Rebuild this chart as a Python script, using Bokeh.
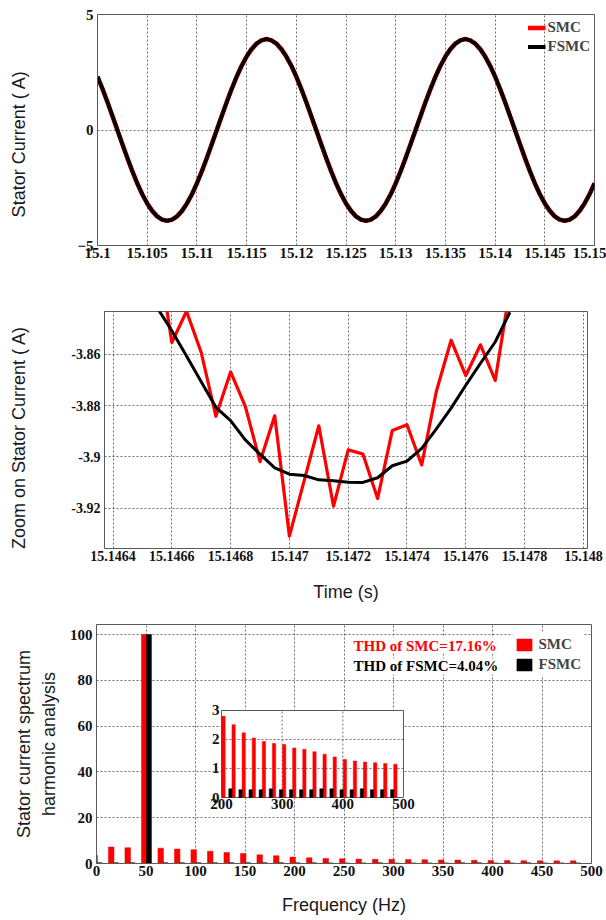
from bokeh.plotting import figure
from bokeh.layouts import column, row
from bokeh.models import (FixedTicker, Range1d, Legend, LegendItem,
                          ColumnDataSource, Label)
from bokeh.embed import file_html
from bokeh.resources import INLINE
from bokeh.core.properties import value
from bokeh.transform import dodge

# ---------------- data ----------------
top_time = [15.1000, 15.1005, 15.1010, 15.1015, 15.1020, 15.1025, 15.1030, 15.1035, 15.1040, 15.1045,
            15.1050, 15.1055, 15.1060, 15.1065, 15.1070, 15.1075, 15.1080, 15.1085, 15.1090, 15.1095,
            15.1100, 15.1105, 15.1110, 15.1115, 15.1120, 15.1125, 15.1130, 15.1135, 15.1140, 15.1145,
            15.1150, 15.1155, 15.1160, 15.1165, 15.1170, 15.1175, 15.1180, 15.1185, 15.1190, 15.1195,
            15.1200, 15.1205, 15.1210, 15.1215, 15.1220, 15.1225, 15.1230, 15.1235, 15.1240, 15.1245,
            15.1250, 15.1255, 15.1260, 15.1265, 15.1270, 15.1275, 15.1280, 15.1285, 15.1290, 15.1295,
            15.1300, 15.1305, 15.1310, 15.1315, 15.1320, 15.1325, 15.1330, 15.1335, 15.1340, 15.1345,
            15.1350, 15.1355, 15.1360, 15.1365, 15.1370, 15.1375, 15.1380, 15.1385, 15.1390, 15.1395,
            15.1400, 15.1405, 15.1410, 15.1415, 15.1420, 15.1425, 15.1430, 15.1435, 15.1440, 15.1445,
            15.1450, 15.1455, 15.1460, 15.1465, 15.1470, 15.1475, 15.1480, 15.1485, 15.1490, 15.1495,
            15.1500]
top_fsmc = [2.31, 1.78, 1.21, 0.61, 0.00, -0.61, -1.21, -1.78, -2.31, -2.78,
            -3.18, -3.50, -3.74, -3.88, -3.93, -3.88, -3.74, -3.50, -3.18, -2.78,
            -2.31, -1.78, -1.21, -0.61, 0.00, 0.61, 1.21, 1.78, 2.31, 2.78,
            3.18, 3.50, 3.74, 3.88, 3.94, 3.88, 3.74, 3.50, 3.18, 2.78,
            2.31, 1.78, 1.21, 0.61, 0.00, -0.61, -1.21, -1.78, -2.31, -2.78,
            -3.18, -3.50, -3.74, -3.88, -3.93, -3.88, -3.74, -3.50, -3.18, -2.78,
            -2.31, -1.78, -1.21, -0.61, 0.00, 0.61, 1.21, 1.78, 2.31, 2.78,
            3.18, 3.50, 3.74, 3.88, 3.94, 3.88, 3.74, 3.50, 3.18, 2.78,
            2.31, 1.78, 1.21, 0.61, 0.00, -0.61, -1.21, -1.78, -2.31, -2.78,
            -3.18, -3.50, -3.74, -3.88, -3.93, -3.88, -3.74, -3.50, -3.18, -2.78,
            -2.31]
top_smc = list(top_fsmc)
top_xticks = [15.1, 15.105, 15.11, 15.115, 15.12, 15.125, 15.13, 15.135, 15.14, 15.145, 15.15]
top_xlabels = ["15.1", "15.105", "15.11", "15.115", "15.12", "15.125", "15.13",
               "15.135", "15.14", "15.145", "15.15"]
top_yticks = [-5, 0, 5]

zoom_time = [15.14655, 15.14660, 15.14665, 15.14670, 15.14675, 15.14680, 15.14685,
             15.14690, 15.14695, 15.14700, 15.14705, 15.14710, 15.14715, 15.14720,
             15.14725, 15.14730, 15.14735, 15.14740, 15.14745, 15.14750, 15.14755,
             15.14760, 15.14765, 15.14770, 15.14775]
zoom_smc = [-3.8180, -3.8554, -3.8432, -3.8593, -3.8842, -3.8669, -3.8803,
            -3.9019, -3.8840, -3.9310, -3.9094, -3.8879, -3.9193, -3.8973,
            -3.8989, -3.9163, -3.8897, -3.8875, -3.9032, -3.8744, -3.8545,
            -3.8683, -3.8563, -3.8702, -3.8345]
zoom_fsmc = [-3.8418, -3.8508, -3.8607, -3.8707, -3.8807, -3.8859, -3.8934,
             -3.8990, -3.9043, -3.9068, -3.9073, -3.9090, -3.9094, -3.9099,
             -3.9100, -3.9082, -3.9035, -3.9017, -3.8967, -3.8891, -3.8810,
             -3.8721, -3.8635, -3.8552, -3.8436]
zoom_xticks = [15.1464, 15.1466, 15.1468, 15.147, 15.1472, 15.1474, 15.1476, 15.1478, 15.148]
zoom_xlabels = ["15.1464", "15.1466", "15.1468", "15.147", "15.1472", "15.1474",
                "15.1476", "15.1478", "15.148"]
zoom_yticks = [-3.92, -3.9, -3.88, -3.86]
zoom_ylabels = ["-3.92", "-3.9", "-3.88", "-3.86"]

harm_freq = [0.0, 16.67, 33.33, 50.0, 66.67, 83.33, 100.0, 116.67, 133.33, 150.0,
             166.67, 183.33, 200.0, 216.67, 233.33, 250.0, 266.67, 283.33, 300.0, 316.67,
             333.33, 350.0, 366.67, 383.33, 400.0, 416.67, 433.33, 450.0, 466.67, 483.33]
harm_smc = [3.5, 7.2, 6.9, 100.0, 6.7, 6.3, 6.0, 5.4, 4.8, 4.4,
            3.8, 3.4, 2.80, 2.51, 2.23, 2.05, 1.93, 1.86, 1.83, 1.71,
            1.66, 1.58, 1.49, 1.40, 1.31, 1.26, 1.22, 1.20, 1.17, 1.15]
harm_fsmc = [0.35, 0.35, 0.35, 100.0, 0.35, 0.35, 0.35, 0.35, 0.35, 0.35,
             0.35, 0.35, 0.30, 0.30, 0.27, 0.27, 0.27, 0.30, 0.27, 0.27,
             0.27, 0.27, 0.30, 0.30, 0.27, 0.27, 0.30, 0.27, 0.27, 0.27]
main_xticks = [0, 50, 100, 150, 200, 250, 300, 350, 400, 450, 500]
main_yticks = [0, 20, 40, 60, 80, 100]
inset_xticks = [200, 300, 400, 500]
inset_xlabels = ["200", "300", "400", "500"]
inset_yticks = [0, 1, 2, 3]
inset_ylabels = ["0", "1", "2", "3"]

thd_smc_text = "THD of SMC=17.16%"
thd_fsmc_text = "THD of FSMC=4.04%"

# ---------------- styling helpers ----------------
SERIF = "Liberation Serif"
SANS = "Liberation Sans"
RED = "#ff0000"
BLACK = "#000000"
FRAME = "#5a5a5a"
GRID = "#6e6e6e"
LABEL_W = 36


def style(p, tick_size):
    p.outline_line_color = FRAME
    p.outline_line_width = 1
    p.outline_line_alpha = 1
    for ax in (p.xaxis, p.yaxis):
        ax.axis_line_color = FRAME
        ax.major_tick_in = 0
        ax.major_tick_out = 0
        ax.minor_tick_line_color = None
        ax.major_label_text_font = SERIF
        ax.major_label_text_font_style = "bold"
        ax.major_label_text_font_size = tick_size
        ax.major_label_text_color = "#111111"
        ax.axis_label_text_font = SANS
        ax.axis_label_text_font_size = "18px"
        ax.axis_label_text_font_style = "normal"
        ax.axis_label_text_color = "#1a1a1a"
    p.xaxis.major_label_standoff = 2
    p.yaxis.major_label_standoff = 4
    p.grid.grid_line_color = GRID
    p.grid.grid_line_dash = "2 2"
    p.grid.grid_line_width = 1
    p.background_fill_color = "white"
    p.border_fill_color = "white"


def label_strip(text, height, center_from_top):
    """narrow strip holding a rotated y-axis title"""
    f = figure(width=LABEL_W, height=height, x_range=Range1d(0, LABEL_W),
               y_range=Range1d(0, height), x_axis_type=None, y_axis_type=None,
               output_backend="svg", toolbar_location=None, min_border=0)
    f.outline_line_color = None
    f.border_fill_color = "white"
    f.background_fill_color = "white"
    f.text(x=[LABEL_W / 2], y=[height - center_from_top], text=[text],
           angle=90, angle_units="deg", text_align="center", text_baseline="middle",
           text_font=value(SANS), text_font_size="18px", text_color="#1a1a1a")
    return f


# ---------------- top plot ----------------
H1 = 275
p1 = figure(width=606 - LABEL_W, height=H1, x_range=Range1d(15.1, 15.15), y_range=Range1d(-5, 5),
            output_backend="svg", toolbar_location=None,
            min_border_left=97 - LABEL_W, min_border_right=12, min_border_top=14,
            min_border_bottom=30)
style(p1, "15px")
p1.xaxis.ticker = FixedTicker(ticks=top_xticks)
p1.xaxis.major_label_overrides = dict(zip(top_xticks, top_xlabels))
p1.yaxis.ticker = FixedTicker(ticks=top_yticks)
r1 = p1.line(top_time, top_smc, line_color=RED, line_width=4.6, line_join="round")
r2 = p1.line(top_time, top_fsmc, line_color=BLACK, line_width=3.8, line_join="round")
leg1 = Legend(items=[LegendItem(label="SMC", renderers=[r1]),
                     LegendItem(label="FSMC", renderers=[r2])],
              location="top_right")
leg1.label_text_font = SERIF
leg1.label_text_font_style = "bold"
leg1.label_text_font_size = "15px"
leg1.glyph_width = 18
leg1.glyph_height = 19
leg1.label_height = 19
leg1.spacing = 0
leg1.padding = 0
leg1.margin = 4
leg1.label_standoff = 2
leg1.background_fill_alpha = 0
leg1.border_line_alpha = 0
p1.add_layout(leg1)
l1 = label_strip("Stator Current ( A)", H1, 154)

# ---------------- zoom plot ----------------
H2 = 333
p2 = figure(width=606 - LABEL_W, height=H2, x_range=Range1d(15.146371, 15.148014),
            y_range=Range1d(-3.9358, -3.8433),
            output_backend="svg", toolbar_location=None,
            min_border_left=104 - LABEL_W, min_border_right=19, min_border_top=36,
            min_border_bottom=60)
style(p2, "14px")
p2.xaxis.ticker = FixedTicker(ticks=zoom_xticks)
p2.xaxis.major_label_overrides = dict(zip(zoom_xticks, zoom_xlabels))
p2.yaxis.ticker = FixedTicker(ticks=zoom_yticks)
p2.yaxis.major_label_overrides = dict(zip(zoom_yticks, zoom_ylabels))
p2.xaxis.axis_label = "Time (s)"
p2.xaxis.axis_label_standoff = 18
p2.line(zoom_time, zoom_smc, line_color=RED, line_width=3.2, line_join="round")
p2.line(zoom_time, zoom_fsmc, line_color=BLACK, line_width=3, line_join="round")
l2 = label_strip("Zoom on Stator Current ( A)", H2, 452 - H1)

# ---------------- harmonic spectrum ----------------
p3 = figure(width=606, height=311, x_range=Range1d(0, 500), y_range=Range1d(0, 104.4),
            output_backend="svg", toolbar_location=None,
            min_border_left=96, min_border_right=15, min_border_top=16, min_border_bottom=56)
style(p3, "15px")
p3.xaxis.ticker = FixedTicker(ticks=main_xticks)
p3.yaxis.ticker = FixedTicker(ticks=main_yticks)
p3.yaxis.axis_label = "Stator current spectrum\nharmonic analysis"
p3.yaxis.axis_label_text_line_height = 1.25
p3.yaxis.axis_label_standoff = 8
p3.xaxis.axis_label = "Frequency (Hz)"
p3.xaxis.axis_label_standoff = 16

src_main = ColumnDataSource(dict(f=harm_freq, smc=harm_smc, fsmc=harm_fsmc))
rb1 = p3.vbar(x=dodge("f", -1.8), top="smc", width=5.6, source=src_main,
              fill_color=RED, line_color=RED, line_width=0.5)
rb2 = p3.vbar(x=dodge("f", 3.0), top="fsmc", width=5, source=src_main,
              fill_color=BLACK, line_color=BLACK, line_width=0.5)

leg3 = Legend(items=[LegendItem(label="SMC", renderers=[rb1]),
                     LegendItem(label="FSMC", renderers=[rb2])],
              location="top_right")
leg3.label_text_font = SERIF
leg3.label_text_font_style = "bold"
leg3.label_text_font_size = "15px"
leg3.glyph_width = 19
leg3.glyph_height = 15
leg3.label_height = 20
leg3.spacing = 0
leg3.padding = 2
leg3.margin = 8
leg3.label_standoff = 5
leg3.background_fill_color = "white"
leg3.background_fill_alpha = 1
leg3.border_line_alpha = 0
p3.add_layout(leg3)

for txt, yv, col in ((thd_smc_text, 95.2, RED), (thd_fsmc_text, 86.1, BLACK)):
    p3.add_layout(Label(x=259.6, y=yv, text=txt, text_color=col, text_font=SERIF,
                        text_font_style="bold", text_font_size="15px",
                        text_baseline="middle", text_align="left",
                        background_fill_color="white", background_fill_alpha=1))

# inset: own coordinate system inside the spectrum plot
in_x = Range1d(200, 500)
in_y = Range1d(0, 3)
inset = p3.subplot(x_source=in_x, y_source=in_y,
                   x_target=Range1d(126.26, 310.1), y_target=Range1d(28.83, 66.84))
inset.quad(left=[in_x.start], right=[in_x.end], bottom=[in_y.start], top=[in_y.end],
           fill_color="white", line_color=FRAME, line_width=1)
inner_x = [t for t in inset_xticks if in_x.start < t < in_x.end]
inner_y = [t for t in inset_yticks if in_y.start < t < in_y.end]
inset.segment(x0=inner_x, y0=[in_y.start] * len(inner_x), x1=inner_x, y1=[in_y.end] * len(inner_x),
              line_color=GRID, line_dash="2 2", line_width=1)
inset.segment(x0=[in_x.start] * len(inner_y), y0=inner_y, x1=[in_x.end] * len(inner_y), y1=inner_y,
              line_color=GRID, line_dash="2 2", line_width=1)

RED_OFF, BLK_OFF = 3.3, -2.0
sel_r = [i for i, f in enumerate(harm_freq) if in_x.start <= f + RED_OFF <= in_x.end]
sel_b = [i for i, f in enumerate(harm_freq) if in_x.start <= f + BLK_OFF <= in_x.end]
src_in_r = ColumnDataSource(dict(f=[harm_freq[i] for i in sel_r], v=[harm_smc[i] for i in sel_r]))
src_in_b = ColumnDataSource(dict(f=[harm_freq[i] for i in sel_b], v=[harm_fsmc[i] for i in sel_b]))
inset.vbar(x=dodge("f", RED_OFF), top="v", width=5.4, source=src_in_r,
           fill_color=RED, line_color=RED, line_width=0.5)
inset.vbar(x=dodge("f", BLK_OFF), top="v", width=5.4, source=src_in_b,
           fill_color=BLACK, line_color=BLACK, line_width=0.5)

inset.text(x=inset_xticks, y=[in_y.start] * len(inset_xticks), text=inset_xlabels,
           text_font=value(SERIF), text_font_style="bold", text_font_size="15px",
           text_align="center", text_baseline="top", y_offset=1, text_color="#111111")
inset.text(x=[in_x.start] * len(inset_yticks), y=inset_yticks, text=inset_ylabels,
           text_font=value(SERIF), text_font_style="bold", text_font_size="15px",
           text_align="right", text_baseline="middle", x_offset=-2, text_color="#111111")

layout = column(row(l1, p1), row(l2, p2), p3)
open("out.html", "w").write(file_html(layout, INLINE))
